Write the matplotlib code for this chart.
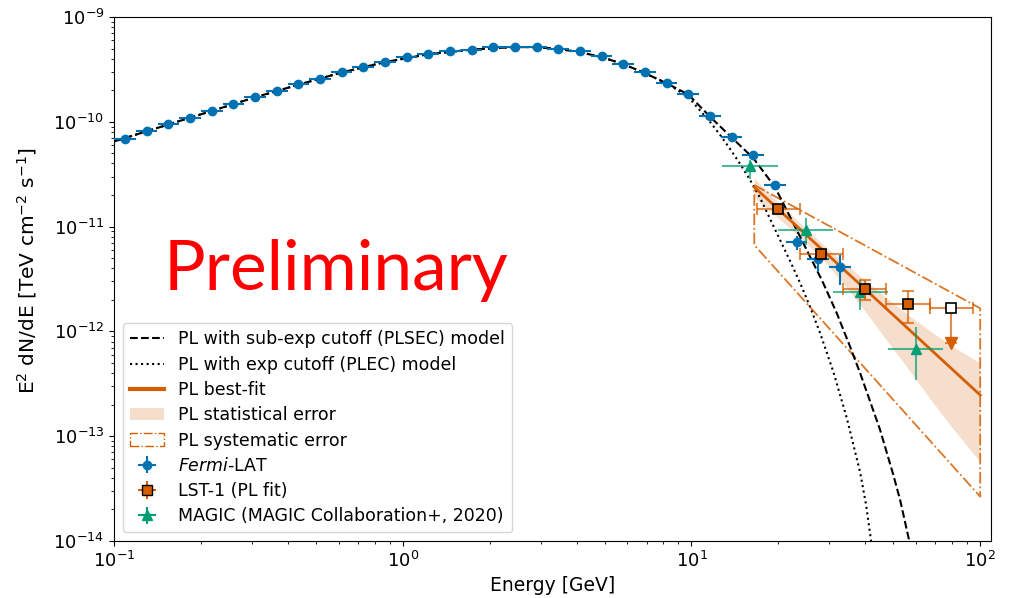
import numpy as np
import matplotlib
matplotlib.use("Agg")
import matplotlib.pyplot as plt
from matplotlib.lines import Line2D
from matplotlib.patches import Patch

# ---------------- Fermi-LAT spectral points ----------------
fermi_energy = [0.1091, 0.1297, 0.1542, 0.1833, 0.2179, 0.2591, 0.3080, 0.3661,
                0.4353, 0.5176, 0.6142, 0.7302, 0.8678, 1.031, 1.226, 1.457,
                1.732, 2.058, 2.446, 2.908, 3.457, 4.108, 4.884, 5.804,
                6.899, 8.200, 9.746, 11.58, 13.77, 16.36, 19.45, 23.12,
                27.48, 32.66]
fermi_flux = [6.81e-11, 8.11e-11, 9.47e-11, 1.087e-10, 1.268e-10, 1.479e-10,
              1.725e-10, 1.967e-10, 2.28e-10, 2.577e-10, 2.987e-10, 3.357e-10,
              3.70e-10, 4.13e-10, 4.44e-10, 4.71e-10, 4.84e-10, 5.12e-10,
              5.14e-10, 5.21e-10, 4.92e-10, 4.71e-10, 4.25e-10, 3.56e-10,
              2.97e-10, 2.33e-10, 1.83e-10, 1.13e-10, 7.11e-11, 4.84e-11,
              2.49e-11, 7.08e-12, 4.94e-12, 4.13e-12]
fermi_err_lo = [2.0e-12, 2.4e-12, 2.8e-12, 3.3e-12, 3.8e-12, 4.4e-12, 5.2e-12,
                5.9e-12, 6.8e-12, 7.7e-12, 9.0e-12, 1.0e-11, 1.1e-11, 1.2e-11,
                1.3e-11, 1.4e-11, 1.5e-11, 1.5e-11, 1.5e-11, 1.6e-11, 1.5e-11,
                1.9e-11, 1.7e-11, 1.4e-11, 1.2e-11, 1.2e-11, 9.0e-12, 6.0e-12,
                4.3e-12, 3.9e-12, 2.2e-12, 1.10e-12, 1.23e-12, 1.36e-12]
fermi_err_hi = [2.0e-12, 2.4e-12, 2.8e-12, 3.3e-12, 3.8e-12, 4.4e-12, 5.2e-12,
                5.9e-12, 6.8e-12, 7.7e-12, 9.0e-12, 1.0e-11, 1.1e-11, 1.2e-11,
                1.3e-11, 1.4e-11, 1.5e-11, 1.5e-11, 1.5e-11, 1.6e-11, 1.5e-11,
                1.9e-11, 1.7e-11, 1.4e-11, 1.2e-11, 1.2e-11, 9.0e-12, 6.0e-12,
                4.3e-12, 3.9e-12, 2.2e-12, 1.05e-12, 0.82e-12, 1.23e-12]
fermi_half_bin_dex = 0.0375

# ---------------- Fermi-LAT model curves ----------------
# common low-energy part of both models
model_energy_common = [0.1, 0.1542, 0.2179, 0.3080, 0.4353, 0.6142, 0.8678,
                       1.226, 1.732, 2.446, 2.908, 3.457, 4.108, 4.884,
                       5.804, 6.899, 8.200]
model_flux_common = [6.49e-11, 9.42e-11, 1.268e-10, 1.713e-10, 2.259e-10,
                     2.954e-10, 3.713e-10, 4.416e-10, 4.886e-10, 5.173e-10,
                     5.150e-10, 4.962e-10, 4.614e-10, 4.144e-10, 3.553e-10,
                     2.909e-10, 2.33e-10]
# PL with sub-exponential cutoff, high-energy part
plsec_energy = [9.746, 11.58, 13.77, 16.36, 19.45, 23.15, 25.4, 28.28, 31.87,
                35.43, 38.37, 45.02, 50.03, 52.8, 57.2]
plsec_flux = [1.822e-10, 1.123e-10, 7.08e-11, 4.515e-11, 2.387e-11, 9.28e-12,
              5.56e-12, 3.09e-12, 1.488e-12, 7.15e-13, 4.01e-13, 1.146e-13,
              4.26e-14, 2.46e-14, 9.16e-15]
# PL with exponential cutoff, high-energy part
plec_energy = [9.746, 10.71, 11.60, 12.57, 13.61, 14.74, 15.96, 17.29, 18.72,
               20.27, 21.95, 23.78, 25.75, 27.89, 31.01, 34.51, 38.37, 40.25,
               41.89, 43.25]
plec_flux = [1.724e-10, 1.282e-10, 9.96e-11, 7.48e-11, 5.50e-11, 3.96e-11,
             2.78e-11, 1.875e-11, 1.181e-11, 7.45e-12, 4.70e-12, 2.90e-12,
             1.71e-12, 9.65e-13, 4.10e-13, 1.49e-13, 4.55e-14, 2.21e-14,
             1.0e-14, 5.29e-15]

# ---------------- LST-1 power-law fit ----------------
pl_energy = [16.5, 100.0]
pl_flux = [2.38e-11, 2.47e-13]

stat_energy = [16.5, 20.0, 23.8, 28.3, 33.5, 40.0, 47.2, 56.4, 67.1, 79.3, 100.0]
stat_flux_hi = [2.90e-11, 1.705e-11, 1.075e-11, 6.90e-12, 4.60e-12, 3.07e-12,
                2.106e-12, 1.434e-12, 1.009e-12, 7.35e-13, 4.99e-13]
stat_flux_lo = [1.912e-11, 1.200e-11, 7.91e-12, 4.96e-12, 2.90e-12, 1.551e-12,
                8.37e-13, 4.38e-13, 2.265e-13, 1.240e-13, 5.67e-14]

sys_energy = [16.5, 100.0, 100.0, 16.5, 16.5]
sys_flux = [2.49e-11, 1.66e-12, 2.65e-14, 6.68e-12, 2.49e-11]

# ---------------- LST-1 spectral points ----------------
lst_energy = [20.0, 28.2, 39.8, 56.2]
lst_e_lo = [16.8, 23.7, 33.5, 47.3]
lst_e_hi = [23.7, 33.5, 47.3, 66.8]
lst_flux = [1.46e-11, 5.48e-12, 2.55e-12, 1.82e-12]
lst_err_lo = [1.2e-12, 0.43e-12, 0.55e-12, 0.63e-12]
lst_err_hi = [1.4e-12, 0.41e-12, 0.54e-12, 0.61e-12]

lst_ul_energy = [79.4]
lst_ul_e_lo = [66.8]
lst_ul_e_hi = [94.4]
lst_ul_flux = [1.67e-12]
lst_ul_arrow_end = [7.8e-13]

# ---------------- MAGIC points ----------------
magic_energy = [16.0, 24.9, 38.4, 59.7]
magic_e_lo = [12.8, 19.95, 30.9, 48.1]
magic_e_hi = [19.95, 30.9, 48.1, 74.6]
magic_flux = [3.81e-11, 9.22e-12, 2.36e-12, 6.79e-13]
magic_err_lo = [9.6e-12, 2.54e-12, 0.76e-12, 3.35e-13]
magic_err_hi = [5.0e-12, 2.8e-12, 0.73e-12, 0.42e-12]

# ---------------- styling ----------------
c_fermi = "#0072b2"
c_lst = "#d55e00"
c_magic = "#009e73"

fig = plt.figure(figsize=(10.10, 5.98), dpi=100)
ax = fig.add_axes([0.1129, 0.0953, 0.8683, 0.8763])
ax.set_xscale("log")
ax.set_yscale("log")

# model curves
ax.plot(model_energy_common + plsec_energy, model_flux_common + plsec_flux,
        ls="--", color="black", lw=1.5, zorder=3)
ax.plot(model_energy_common + plec_energy, model_flux_common + plec_flux,
        ls=":", color="black", lw=1.5, zorder=3)

# LST-1 PL fit, statistical band and systematic envelope
ax.fill_between(stat_energy, stat_flux_lo, stat_flux_hi, color=c_lst,
                alpha=0.2, lw=0, zorder=1)
ax.plot(sys_energy, sys_flux, ls="-.", color=c_lst, lw=1.3, alpha=0.85, zorder=2)
ax.plot(pl_energy, pl_flux, color=c_lst, lw=2.0, zorder=4)

# Fermi-LAT points
fe = np.array(fermi_energy)
fermi_xerr = [fe - fe / 10 ** fermi_half_bin_dex, fe * 10 ** fermi_half_bin_dex - fe]
ax.errorbar(fermi_energy, fermi_flux, yerr=[fermi_err_lo, fermi_err_hi],
            xerr=fermi_xerr, fmt="o", color=c_fermi, ms=6, lw=1.5,
            capsize=0, zorder=5)

# MAGIC points
me = np.array(magic_energy)
ax.errorbar(magic_energy, magic_flux, yerr=[magic_err_lo, magic_err_hi],
            xerr=[me - np.array(magic_e_lo), np.array(magic_e_hi) - me],
            fmt="none", ecolor=c_magic, lw=1.5, alpha=0.7, capsize=0, zorder=5)
ax.plot(magic_energy, magic_flux, "^", color=c_magic, ms=7, zorder=6)

# LST-1 points
le = np.array(lst_energy)
ax.errorbar(lst_energy, lst_flux, yerr=[lst_err_lo, lst_err_hi],
            xerr=[le - np.array(lst_e_lo), np.array(lst_e_hi) - le],
            fmt="none", ecolor=c_lst, lw=1.5, alpha=0.7, capsize=4,
            capthick=1.5, zorder=6)
ax.plot(lst_energy, lst_flux, "s", mfc=c_lst, mec="black", mew=1.2, ms=7,
        zorder=7)

# LST-1 upper limit
ue = np.array(lst_ul_energy)
uf = np.array(lst_ul_flux)
ax.errorbar(lst_ul_energy, lst_ul_flux,
            yerr=[uf - np.array(lst_ul_arrow_end), np.zeros_like(uf)],
            xerr=[ue - np.array(lst_ul_e_lo), np.array(lst_ul_e_hi) - ue],
            fmt="none", ecolor=c_lst, lw=1.5, alpha=0.7, capsize=4,
            capthick=1.5, zorder=6)
ax.plot(lst_ul_energy, lst_ul_arrow_end, "v", color=c_lst, ms=8, zorder=6)
ax.plot(lst_ul_energy, lst_ul_flux, "s", mfc="white", mec="black", mew=1.2,
        ms=7, zorder=7)

ax.set_xlim(0.1, 109)
ax.set_ylim(1e-14, 1e-9)
ax.tick_params(axis="both", which="major", labelsize=13)
ax.set_xlabel("Energy [GeV]", fontsize=13.5)
ax.set_ylabel(r"E$^2$ dN/dE [TeV cm$^{-2}$ s$^{-1}$]", fontsize=14.5)
ax.yaxis.set_label_coords(-0.085, 0.515)

ax.text(0.056, 0.479, "Preliminary", transform=ax.transAxes, color="red",
        fontsize=50, family="Lato", va="baseline", ha="left")

# legend
handles = [
    Line2D([], [], ls="--", color="black", lw=1.5),
    Line2D([], [], ls=":", color="black", lw=1.5),
    Line2D([], [], color=c_lst, lw=3),
    Patch(facecolor=c_lst, alpha=0.2, lw=0),
    Patch(facecolor="none", edgecolor=c_lst, ls="-.", lw=1.0),
    ax.errorbar([], [], xerr=[], yerr=[], fmt="o", color=c_fermi, ms=6, lw=1.5),
    ax.errorbar([], [], xerr=[], yerr=[], fmt="s", mfc=c_lst, mec="black",
                ecolor=c_lst, ms=7, lw=1.5, capsize=3),
    ax.errorbar([], [], xerr=[], yerr=[], fmt="^", color=c_magic, ms=7, lw=1.5),
]
labels = [
    "PL with sub-exp cutoff (PLSEC) model",
    "PL with exp cutoff (PLEC) model",
    "PL best-fit",
    "PL statistical error",
    "PL systematic error",
    r"$\it{Fermi}$-LAT",
    "LST-1 (PL fit)",
    "MAGIC (MAGIC Collaboration+, 2020)",
]
ax.legend(handles, labels, loc="lower left", fontsize=12.5, labelspacing=0.42)

fig.savefig("out.png", dpi=100)
